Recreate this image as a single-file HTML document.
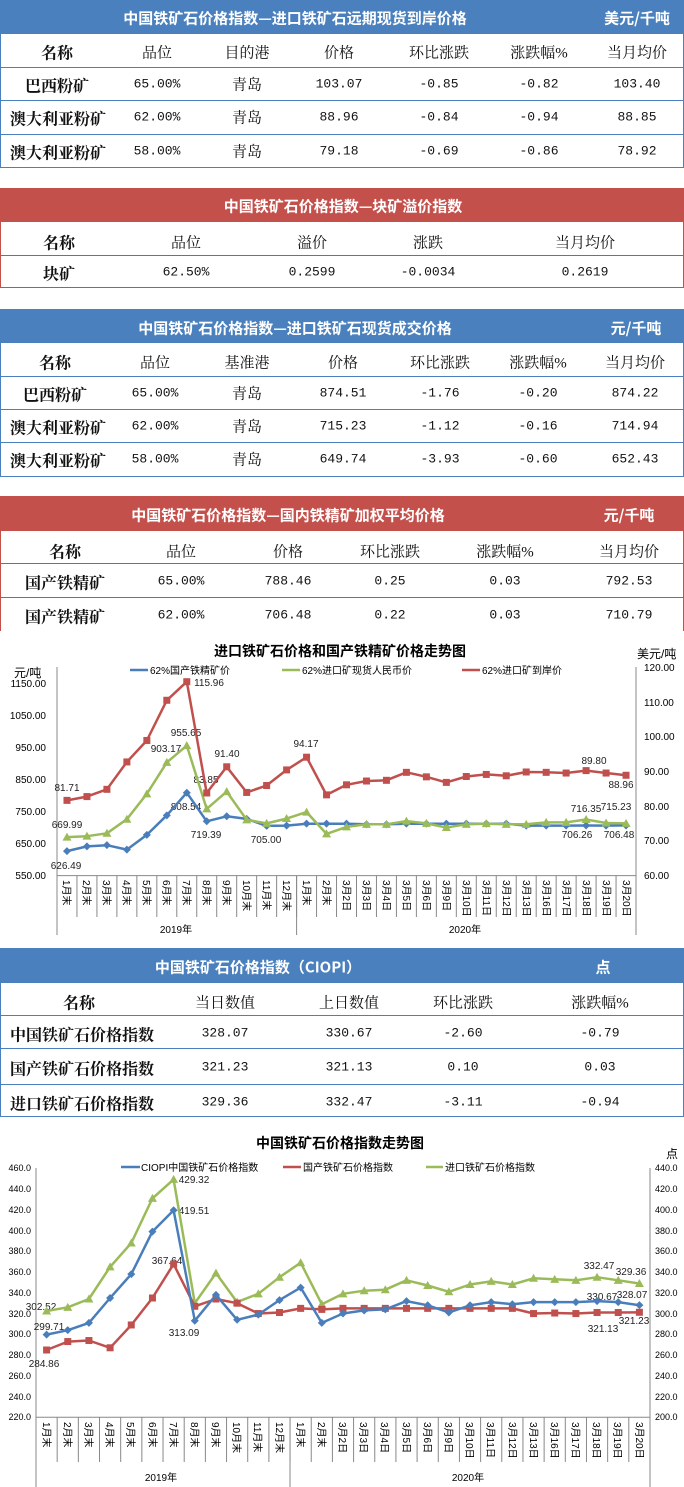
<!DOCTYPE html>
<html><head><meta charset="utf-8">
<style>
*{margin:0;padding:0;box-sizing:border-box}
body{width:684px;height:1487px;position:relative;background:#fff;overflow:hidden;font-family:"Liberation Serif","Noto Serif CJK SC",serif;color:#111}
.b{position:absolute;left:0;width:684px}
.hb{background:#4a80bd}.hr{background:#c4504c}
.c{position:absolute;transform:translate(-50%,-50%);white-space:nowrap;font-size:15px}
.l{position:absolute;transform:translateY(-50%);white-space:nowrap;font-size:16px;font-weight:bold;font-family:"Noto Serif CJK SC",serif}
.t{color:#fff;font-weight:bold;font-family:"Noto Sans CJK SC",sans-serif;font-size:15px}
.n{font-family:"Liberation Mono",monospace;font-size:13px}
.k{font-weight:bold;font-family:"Noto Serif CJK SC",serif;font-size:16px}
.r{font-weight:bold;font-family:"Noto Serif CJK SC",serif;font-size:16px}
.hl{position:absolute;left:0;width:684px;height:0;border-top:1.5px solid}
.fr{position:absolute;left:0;width:684px;border:1.5px solid;border-top:none}
svg text{font-family:"Liberation Sans","Noto Sans CJK SC",sans-serif}
</style></head><body>

<!-- Table 1 -->
<div class="b hb" style="top:0;height:34px"></div>
<div class="fr" style="top:34px;height:134px;border-color:#4a80bd"></div>
<div class="hl" style="top:67px;border-color:#4a80bd"></div>
<div class="hl" style="top:100px;border-color:#4a80bd"></div>
<div class="hl" style="top:134px;border-color:#4a80bd"></div>
<span class="c t" style="left:295px;top:18px">中国铁矿石价格指数—进口铁矿石远期现货到岸价格</span>
<span class="c t" style="left:637px;top:18px">美元/千吨</span>
<span class="c k" style="left:57px;top:52px">名称</span>
<span class="c" style="left:157px;top:52px">品位</span>
<span class="c" style="left:247px;top:52px">目的港</span>
<span class="c" style="left:339px;top:52px">价格</span>
<span class="c" style="left:439px;top:52px">环比涨跌</span>
<span class="c" style="left:539px;top:52px">涨跌幅%</span>
<span class="c" style="left:637px;top:52px">当月均价</span>
<span class="c r" style="left:57px;top:85px">巴西粉矿</span>
<span class="c n" style="left:157px;top:84px">65.00%</span><span class="c" style="left:247px;top:84px">青岛</span><span class="c n" style="left:339px;top:84px">103.07</span><span class="c n" style="left:439px;top:84px">-0.85</span><span class="c n" style="left:539px;top:84px">-0.82</span><span class="c n" style="left:637px;top:84px">103.40</span>
<span class="l" style="left:10px;top:118px">澳大利亚粉矿</span>
<span class="c n" style="left:157px;top:117px">62.00%</span><span class="c" style="left:247px;top:117px">青岛</span><span class="c n" style="left:339px;top:117px">88.96</span><span class="c n" style="left:439px;top:117px">-0.84</span><span class="c n" style="left:539px;top:117px">-0.94</span><span class="c n" style="left:637px;top:117px">88.85</span>
<span class="l" style="left:10px;top:152px">澳大利亚粉矿</span>
<span class="c n" style="left:157px;top:151px">58.00%</span><span class="c" style="left:247px;top:151px">青岛</span><span class="c n" style="left:339px;top:151px">79.18</span><span class="c n" style="left:439px;top:151px">-0.69</span><span class="c n" style="left:539px;top:151px">-0.86</span><span class="c n" style="left:637px;top:151px">78.92</span>

<!-- Table 2 -->
<div class="b hr" style="top:188px;height:34px"></div>
<div class="fr" style="top:222px;height:66px;border-color:#c4504c"></div>
<div class="hl" style="top:255px;border-color:#c4504c"></div>
<span class="c t" style="left:343px;top:206px">中国铁矿石价格指数—块矿溢价指数</span>
<span class="c k" style="left:59px;top:242px">名称</span>
<span class="c" style="left:186px;top:242px">品位</span>
<span class="c" style="left:312px;top:242px">溢价</span>
<span class="c" style="left:428px;top:242px">涨跌</span>
<span class="c" style="left:585px;top:242px">当月均价</span>
<span class="c r" style="left:59px;top:273px">块矿</span>
<span class="c n" style="left:186px;top:272px">62.50%</span><span class="c n" style="left:312px;top:272px">0.2599</span><span class="c n" style="left:428px;top:272px">-0.0034</span><span class="c n" style="left:585px;top:272px">0.2619</span>

<!-- Table 3 -->
<div class="b hb" style="top:309px;height:34px"></div>
<div class="fr" style="top:343px;height:134px;border-color:#4a80bd"></div>
<div class="hl" style="top:376px;border-color:#4a80bd"></div>
<div class="hl" style="top:409px;border-color:#4a80bd"></div>
<div class="hl" style="top:442px;border-color:#4a80bd"></div>
<span class="c t" style="left:295px;top:328px">中国铁矿石价格指数—进口铁矿石现货成交价格</span>
<span class="c t" style="left:636px;top:328px">元/千吨</span>
<span class="c k" style="left:55px;top:362px">名称</span>
<span class="c" style="left:155px;top:362px">品位</span>
<span class="c" style="left:247px;top:362px">基准港</span>
<span class="c" style="left:343px;top:362px">价格</span>
<span class="c" style="left:440px;top:362px">环比涨跌</span>
<span class="c" style="left:538px;top:362px">涨跌幅%</span>
<span class="c" style="left:635px;top:362px">当月均价</span>
<span class="c r" style="left:55px;top:394px">巴西粉矿</span>
<span class="c n" style="left:155px;top:393px">65.00%</span><span class="c" style="left:247px;top:393px">青岛</span><span class="c n" style="left:343px;top:393px">874.51</span><span class="c n" style="left:440px;top:393px">-1.76</span><span class="c n" style="left:538px;top:393px">-0.20</span><span class="c n" style="left:635px;top:393px">874.22</span>
<span class="l" style="left:10px;top:427px">澳大利亚粉矿</span>
<span class="c n" style="left:155px;top:426px">62.00%</span><span class="c" style="left:247px;top:426px">青岛</span><span class="c n" style="left:343px;top:426px">715.23</span><span class="c n" style="left:440px;top:426px">-1.12</span><span class="c n" style="left:538px;top:426px">-0.16</span><span class="c n" style="left:635px;top:426px">714.94</span>
<span class="l" style="left:10px;top:460px">澳大利亚粉矿</span>
<span class="c n" style="left:155px;top:459px">58.00%</span><span class="c" style="left:247px;top:459px">青岛</span><span class="c n" style="left:343px;top:459px">649.74</span><span class="c n" style="left:440px;top:459px">-3.93</span><span class="c n" style="left:538px;top:459px">-0.60</span><span class="c n" style="left:635px;top:459px">652.43</span>

<!-- Table 4 -->
<div class="b hr" style="top:496px;height:35px"></div>
<div style="position:absolute;left:0;top:531px;width:684px;height:100px;border-left:1.5px solid #c4504c;border-right:1.5px solid #c4504c"></div>
<div class="hl" style="top:563px;border-color:#c4504c"></div>
<div class="hl" style="top:597px;border-color:#c4504c"></div>
<span class="c t" style="left:288px;top:515px">中国铁矿石价格指数—国内铁精矿加权平均价格</span>
<span class="c t" style="left:629px;top:515px">元/千吨</span>
<span class="c k" style="left:65px;top:551px">名称</span>
<span class="c" style="left:181px;top:551px">品位</span>
<span class="c" style="left:288px;top:551px">价格</span>
<span class="c" style="left:390px;top:551px">环比涨跌</span>
<span class="c" style="left:505px;top:551px">涨跌幅%</span>
<span class="c" style="left:629px;top:551px">当月均价</span>
<span class="c r" style="left:65px;top:582px">国产铁精矿</span>
<span class="c n" style="left:181px;top:581px">65.00%</span><span class="c n" style="left:288px;top:581px">788.46</span><span class="c n" style="left:390px;top:581px">0.25</span><span class="c n" style="left:505px;top:581px">0.03</span><span class="c n" style="left:629px;top:581px">792.53</span>
<span class="c r" style="left:65px;top:616px">国产铁精矿</span>
<span class="c n" style="left:181px;top:615px">62.00%</span><span class="c n" style="left:288px;top:615px">706.48</span><span class="c n" style="left:390px;top:615px">0.22</span><span class="c n" style="left:505px;top:615px">0.03</span><span class="c n" style="left:629px;top:615px">710.79</span>

<!-- Chart 1 -->
<svg id="c1" style="position:absolute;left:0;top:630px" width="684" height="310" viewBox="0 630 684 310">
<text x="340" y="656" font-size="14" font-weight="bold" text-anchor="middle" font-family="Noto Serif CJK SC,serif">进口铁矿石价格和国产铁精矿价格走势图</text>
<text x="14" y="677" font-size="12">元/吨</text>
<text x="637" y="658" font-size="12">美元/吨</text>
<g font-size="10" text-anchor="end">
<text x="46" y="687">1150.00</text><text x="46" y="719">1050.00</text><text x="46" y="751">950.00</text><text x="46" y="783">850.00</text><text x="46" y="815">750.00</text><text x="46" y="847">650.00</text><text x="46" y="879">550.00</text>
</g>
<g font-size="10">
<text x="644" y="671">120.00</text><text x="644" y="706">110.00</text><text x="644" y="740">100.00</text><text x="644" y="775">90.00</text><text x="644" y="810">80.00</text><text x="644" y="844">70.00</text><text x="644" y="879">60.00</text>
</g>
<g stroke="#888" stroke-width="1" fill="none" id="ax1">
<line x1="57" y1="667" x2="57" y2="935"/><line x1="636" y1="667" x2="636" y2="935"/><line x1="57" y1="875.6" x2="636" y2="875.6"/><line x1="296.6" y1="875.6" x2="296.6" y2="935"/>
</g>
<g font-size="10">
<line x1="130" y1="670" x2="148" y2="670" stroke="#4a7ebb" stroke-width="2.5"/><text x="150" y="674">62%国产铁精矿价</text>
<line x1="282" y1="670" x2="300" y2="670" stroke="#9bbb59" stroke-width="2.5"/><text x="302" y="674">62%进口矿现货人民币价</text>
<line x1="462" y1="670" x2="480" y2="670" stroke="#c0504d" stroke-width="2.5"/><text x="482" y="674">62%进口矿到岸价</text>
</g>
<g font-size="10" fill="#222" text-anchor="middle">
<text x="67" y="791">81.71</text><text x="67" y="828">669.99</text><text x="66" y="869">626.49</text>
<text x="166" y="752">903.17</text><text x="186" y="736">955.65</text><text x="209" y="686">115.96</text>
<text x="206" y="783">83.85</text><text x="186" y="810">808.54</text><text x="206" y="838">719.39</text>
<text x="227" y="757">91.40</text><text x="266" y="843">705.00</text><text x="306" y="747">94.17</text>
<text x="594" y="764">89.80</text><text x="586" y="812">716.35</text><text x="616" y="810">715.23</text>
<text x="621" y="788">88.96</text><text x="577" y="838">706.26</text><text x="619" y="838">706.48</text>
</g>
<g font-size="10" id="cat1">
<text transform="translate(63,880) rotate(90)">1月末</text><text transform="translate(83,880) rotate(90)">2月末</text><text transform="translate(103,880) rotate(90)">3月末</text><text transform="translate(123,880) rotate(90)">4月末</text><text transform="translate(143,880) rotate(90)">5月末</text><text transform="translate(163,880) rotate(90)">6月末</text><text transform="translate(183,880) rotate(90)">7月末</text><text transform="translate(203,880) rotate(90)">8月末</text><text transform="translate(223,880) rotate(90)">9月末</text><text transform="translate(243,880) rotate(90)">10月末</text><text transform="translate(263,880) rotate(90)">11月末</text><text transform="translate(283,880) rotate(90)">12月末</text><text transform="translate(303,880) rotate(90)">1月末</text><text transform="translate(323,880) rotate(90)">2月末</text><text transform="translate(343,880) rotate(90)">3月2日</text><text transform="translate(363,880) rotate(90)">3月3日</text><text transform="translate(383,880) rotate(90)">3月4日</text><text transform="translate(403,880) rotate(90)">3月5日</text><text transform="translate(423,880) rotate(90)">3月6日</text><text transform="translate(443,880) rotate(90)">3月9日</text><text transform="translate(463,880) rotate(90)">3月10日</text><text transform="translate(483,880) rotate(90)">3月11日</text><text transform="translate(503,880) rotate(90)">3月12日</text><text transform="translate(523,880) rotate(90)">3月13日</text><text transform="translate(543,880) rotate(90)">3月16日</text><text transform="translate(563,880) rotate(90)">3月17日</text><text transform="translate(583,880) rotate(90)">3月18日</text><text transform="translate(603,880) rotate(90)">3月19日</text><text transform="translate(623,880) rotate(90)">3月20日</text>
</g>
<text x="176" y="933" font-size="10" text-anchor="middle">2019年</text>
<text x="465" y="933" font-size="10" text-anchor="middle">2020年</text>
</svg>

<!-- Table 5 -->
<div class="b hb" style="top:948px;height:35px"></div>
<div class="fr" style="top:983px;height:134px;border-color:#4a80bd"></div>
<div class="hl" style="top:1015px;border-color:#4a80bd"></div>
<div class="hl" style="top:1048px;border-color:#4a80bd"></div>
<div class="hl" style="top:1084px;border-color:#4a80bd"></div>
<span class="c t" style="left:258px;top:967px">中国铁矿石价格指数（CIOPI）</span>
<span class="c t" style="left:603px;top:967px">点</span>
<span class="c k" style="left:79px;top:1002px">名称</span>
<span class="c" style="left:225px;top:1002px">当日数值</span>
<span class="c" style="left:349px;top:1002px">上日数值</span>
<span class="c" style="left:463px;top:1002px">环比涨跌</span>
<span class="c" style="left:600px;top:1002px">涨跌幅%</span>
<span class="l" style="left:10px;top:1034px">中国铁矿石价格指数</span>
<span class="c n" style="left:225px;top:1033px">328.07</span><span class="c n" style="left:349px;top:1033px">330.67</span><span class="c n" style="left:463px;top:1033px">-2.60</span><span class="c n" style="left:600px;top:1033px">-0.79</span>
<span class="l" style="left:10px;top:1068px">国产铁矿石价格指数</span>
<span class="c n" style="left:225px;top:1067px">321.23</span><span class="c n" style="left:349px;top:1067px">321.13</span><span class="c n" style="left:463px;top:1067px">0.10</span><span class="c n" style="left:600px;top:1067px">0.03</span>
<span class="l" style="left:10px;top:1103px">进口铁矿石价格指数</span>
<span class="c n" style="left:225px;top:1102px">329.36</span><span class="c n" style="left:349px;top:1102px">332.47</span><span class="c n" style="left:463px;top:1102px">-3.11</span><span class="c n" style="left:600px;top:1102px">-0.94</span>

<!-- Chart 2 -->
<svg id="c2" style="position:absolute;left:0;top:1125px" width="684" height="362" viewBox="0 1125 684 362">
<text x="340" y="1148" font-size="14" font-weight="bold" text-anchor="middle" font-family="Noto Serif CJK SC,serif">中国铁矿石价格指数走势图</text>
<text x="666" y="1158" font-size="12">点</text>
<g font-size="9" text-anchor="end">
<text x="31" y="1171">460.0</text><text x="31" y="1192">440.0</text><text x="31" y="1213">420.0</text><text x="31" y="1234">400.0</text><text x="31" y="1254">380.0</text><text x="31" y="1275">360.0</text><text x="31" y="1296">340.0</text><text x="31" y="1317">320.0</text><text x="31" y="1337">300.0</text><text x="31" y="1358">280.0</text><text x="31" y="1379">260.0</text><text x="31" y="1400">240.0</text><text x="31" y="1420">220.0</text>
</g>
<g font-size="9">
<text x="655" y="1171">440.0</text><text x="655" y="1192">420.0</text><text x="655" y="1213">400.0</text><text x="655" y="1234">380.0</text><text x="655" y="1254">360.0</text><text x="655" y="1275">340.0</text><text x="655" y="1296">320.0</text><text x="655" y="1317">300.0</text><text x="655" y="1337">280.0</text><text x="655" y="1358">260.0</text><text x="655" y="1379">240.0</text><text x="655" y="1400">220.0</text><text x="655" y="1420">200.0</text>
</g>
<g stroke="#888" stroke-width="1" fill="none" id="ax2">
<line x1="36" y1="1168" x2="36" y2="1487"/><line x1="650" y1="1168" x2="650" y2="1487"/><line x1="36" y1="1417.3" x2="650" y2="1417.3"/><line x1="290" y1="1417.3" x2="290" y2="1487"/>
</g>
<g font-size="10">
<line x1="121" y1="1167" x2="140" y2="1167" stroke="#4a7ebb" stroke-width="2.5"/><text x="141" y="1171">CIOPI中国铁矿石价格指数</text>
<line x1="283" y1="1167" x2="301" y2="1167" stroke="#c0504d" stroke-width="2.5"/><text x="303" y="1171">国产铁矿石价格指数</text>
<line x1="426" y1="1167" x2="443" y2="1167" stroke="#9bbb59" stroke-width="2.5"/><text x="445" y="1171">进口铁矿石价格指数</text>
</g>
<g font-size="10" fill="#222" text-anchor="middle">
<text x="41" y="1310">302.52</text><text x="49" y="1330">299.71</text><text x="44" y="1367">284.86</text>
<text x="194" y="1183">429.32</text><text x="194" y="1214">419.51</text><text x="167" y="1264">367.64</text>
<text x="184" y="1336">313.09</text><text x="599" y="1269">332.47</text><text x="631" y="1275">329.36</text>
<text x="602" y="1300">330.67</text><text x="632" y="1298">328.07</text><text x="603" y="1332">321.13</text><text x="634" y="1324">321.23</text>
</g>
<g font-size="10">
<text transform="translate(43,1422) rotate(90)">1月末</text><text transform="translate(64,1422) rotate(90)">2月末</text><text transform="translate(85,1422) rotate(90)">3月末</text><text transform="translate(106,1422) rotate(90)">4月末</text><text transform="translate(127,1422) rotate(90)">5月末</text><text transform="translate(149,1422) rotate(90)">6月末</text><text transform="translate(170,1422) rotate(90)">7月末</text><text transform="translate(191,1422) rotate(90)">8月末</text><text transform="translate(212,1422) rotate(90)">9月末</text><text transform="translate(233,1422) rotate(90)">10月末</text><text transform="translate(254,1422) rotate(90)">11月末</text><text transform="translate(276,1422) rotate(90)">12月末</text><text transform="translate(297,1422) rotate(90)">1月末</text><text transform="translate(318,1422) rotate(90)">2月末</text><text transform="translate(339,1422) rotate(90)">3月2日</text><text transform="translate(360,1422) rotate(90)">3月3日</text><text transform="translate(381,1422) rotate(90)">3月4日</text><text transform="translate(403,1422) rotate(90)">3月5日</text><text transform="translate(424,1422) rotate(90)">3月6日</text><text transform="translate(445,1422) rotate(90)">3月9日</text><text transform="translate(466,1422) rotate(90)">3月10日</text><text transform="translate(487,1422) rotate(90)">3月11日</text><text transform="translate(509,1422) rotate(90)">3月12日</text><text transform="translate(530,1422) rotate(90)">3月13日</text><text transform="translate(551,1422) rotate(90)">3月16日</text><text transform="translate(572,1422) rotate(90)">3月17日</text><text transform="translate(593,1422) rotate(90)">3月18日</text><text transform="translate(614,1422) rotate(90)">3月19日</text><text transform="translate(636,1422) rotate(90)">3月20日</text>
</g>
<text x="161" y="1481" font-size="10" text-anchor="middle">2019年</text>
<text x="468" y="1481" font-size="10" text-anchor="middle">2020年</text>
</svg>

<script>
var NS="http://www.w3.org/2000/svg";
function el(p,t,a){var e=document.createElementNS(NS,t);for(var k in a)e.setAttribute(k,a[k]);p.appendChild(e);return e;}
function series(svg,xs,ys,col,mk){
  var pts=xs.map(function(x,i){return x.toFixed(1)+","+ys[i].toFixed(1)}).join(" ");
  el(svg,"polyline",{points:pts,fill:"none",stroke:col,"stroke-width":"2.5","stroke-linejoin":"round"});
  xs.forEach(function(x,i){var y=ys[i];
    if(mk=="d")el(svg,"polygon",{points:(x)+","+(y-4)+" "+(x+4)+","+y+" "+x+","+(y+4)+" "+(x-4)+","+y,fill:col});
    else if(mk=="s")el(svg,"rect",{x:x-3.5,y:y-3.5,width:7,height:7,fill:col});
    else el(svg,"polygon",{points:x+","+(y-4.5)+" "+(x+4.5)+","+(y+3.5)+" "+(x-4.5)+","+(y+3.5),fill:col});
  });
}
function ticks(g,x0,w,n,y0,y1){for(var i=1;i<n;i++){el(g,"line",{x1:x0+w*i,y1:y0,x2:x0+w*i,y2:y1});}}
var s1=document.getElementById("c1"),s2=document.getElementById("c2");
ticks(document.getElementById("ax1"),57,19.966,29,875.6,917);
ticks(document.getElementById("ax2"),36,21.172,29,1417.3,1462);
var x1=[],x2=[];for(var i=0;i<29;i++){x1.push(57+19.966*(i+.5));x2.push(36+21.172*(i+.5));}
var L=function(v){return 875.6-(v-550)*0.3205},R=function(v){return 875.6-(v-60)*3.465};
var blue=[626.49,641,645,631,677,738,808.54,719.39,735,727,705,706,712,712,712,710,710,712,712,712,712,712,712,706,706,706,706.26,706,706.48];
var green=[669.99,673,682,726,805,903.17,955.65,758,812,724,713,728,748,680,702,710,710,720,713,700,710,712,710,710,716,716,725,714,713];
var red=[81.71,82.8,84.9,92.8,99,110.6,115.96,83.85,91.4,84,86,90.5,94.17,83.3,86.2,87.3,87.5,89.8,88.5,86.9,88.6,89.2,88.8,89.9,89.8,89.6,90.3,89.6,88.96];
series(s1,x1,blue.map(L),"#4a7ebb","d");
series(s1,x1,green.map(L),"#9bbb59","t");
series(s1,x1,red.map(R),"#c0504d","s");
var Y=function(v){return 1168.3+(460-v)*1.0375};
var b2=[299.71,304,311,335,358,399,419.51,313.09,338,314,319,333,345,311,320,323,324,332,328,321,328,331,329,331,331,331,332,331,328.07];
var r2=[284.86,293,294,287,309,335,367.64,327,334,330,320,321,325,324,325,325,325,325,325,325,325,325,325,320,320.5,320,321,321,321.23];
var g2=[322.5,326,334,365,388,431,449.3,330,359,331,339,355,369,329,339,342,343,352,347,341,348,351,348,354,353,352,355,352,349];
series(s2,x2,g2.map(Y),"#9bbb59","t");
series(s2,x2,r2.map(Y),"#c0504d","s");
series(s2,x2,b2.map(Y),"#4a7ebb","d");
</script>
</body></html>
